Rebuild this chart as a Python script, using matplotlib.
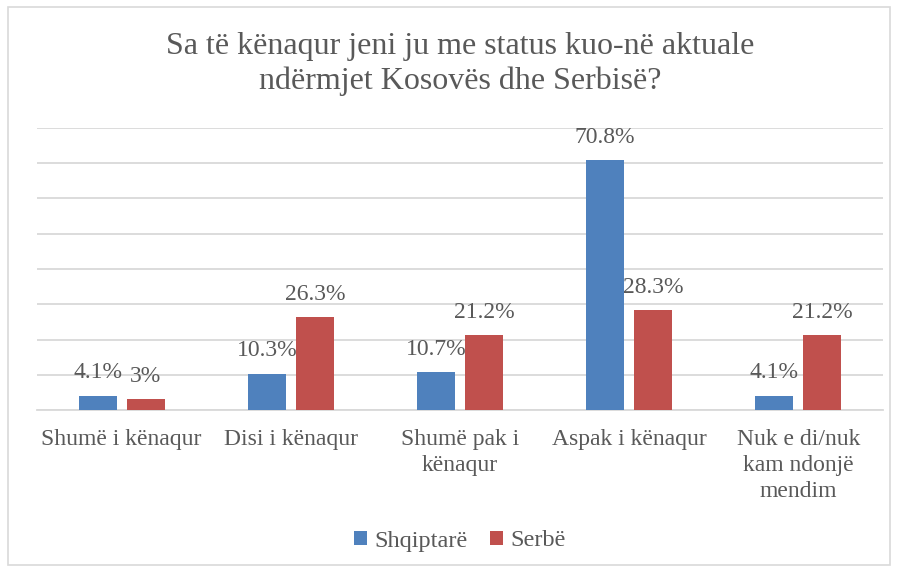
import matplotlib.pyplot as plt
import numpy as np
from matplotlib.patches import Rectangle

plt.rcParams['font.family'] = ['Liberation Serif', 'DejaVu Serif']

# data
categories = ["Shumë i kënaqur", "Disi i kënaqur", "Shumë pak i\nkënaqur",
              "Aspak i kënaqur", "Nuk e di/nuk\nkam ndonjë\nmendim"]
shqiptare = [4.1, 10.3, 10.7, 70.8, 4.1]
serbe = [3, 26.3, 21.2, 28.3, 21.2]
series_names = ["Shqiptarë", "Serbë"]

blue = "#4F81BD"
red = "#C0504D"
txt = "#595959"
grid = "#D9D9D9"

fig = plt.figure(figsize=(8.97, 5.72), dpi=100)
W, H = 897, 572
ax = fig.add_axes([37 / W, 1 - 410 / H, (883 - 37) / W, (410 - 128) / H])

x = np.arange(len(categories))
bw = 0.225
off = 0.142
b1 = ax.bar(x - off, shqiptare, bw, color=blue, label=series_names[0], zorder=3)
b2 = ax.bar(x + off, serbe, bw, color=red, label=series_names[1], zorder=3)

def fmt(v):
    return f"{v:g}%"

for bars, vals in [(b1, shqiptare), (b2, serbe)]:
    for rect, v in zip(bars, vals):
        ax.annotate(fmt(v), (rect.get_x() + rect.get_width() / 2, rect.get_height()),
                    xytext=(0, 9), textcoords="offset points",
                    ha="center", va="bottom", fontsize=17, color=txt)

ax.set_xlim(-0.5, len(categories) - 0.5)
ax.set_ylim(0, 80)
ax.set_yticks(np.arange(0, 81, 10))
ax.yaxis.grid(True, color=grid, linewidth=1.3, zorder=0)
ax.tick_params(axis="y", left=False, labelleft=False)
ax.tick_params(axis="x", length=0, pad=14, labelsize=17, labelcolor=txt)
ax.set_xticks(x)
ax.set_xticklabels(categories, linespacing=1.3, va="top")
for s in ["top", "right", "left"]:
    ax.spines[s].set_visible(False)
ax.spines["bottom"].set_color(grid)
ax.spines["bottom"].set_linewidth(1.3)

fig.text(0.5 * (37 + 883) / W, 1 - 64 / H,
         "Sa të kënaqur jeni ju me status kuo-në aktuale\nndërmjet Kosovës dhe Serbisë?",
         ha="center", va="center", fontsize=23, color=txt, linespacing=1.28)

fig.legend(handles=[b1, b2], loc="center", bbox_to_anchor=(0.5 * (37 + 883) / W, 1 - 541 / H),
           ncol=2, frameon=False, fontsize=17.5, labelcolor=txt,
           handlelength=0.55, handleheight=0.55, handletextpad=0.3, columnspacing=0.9)

fig.patches.append(Rectangle((8 / W, 1 - 565 / H), (890 - 8) / W, (565 - 7) / H,
                             transform=fig.transFigure, fill=False,
                             edgecolor=grid, linewidth=1.2))

fig.savefig("out.png", dpi=100)
